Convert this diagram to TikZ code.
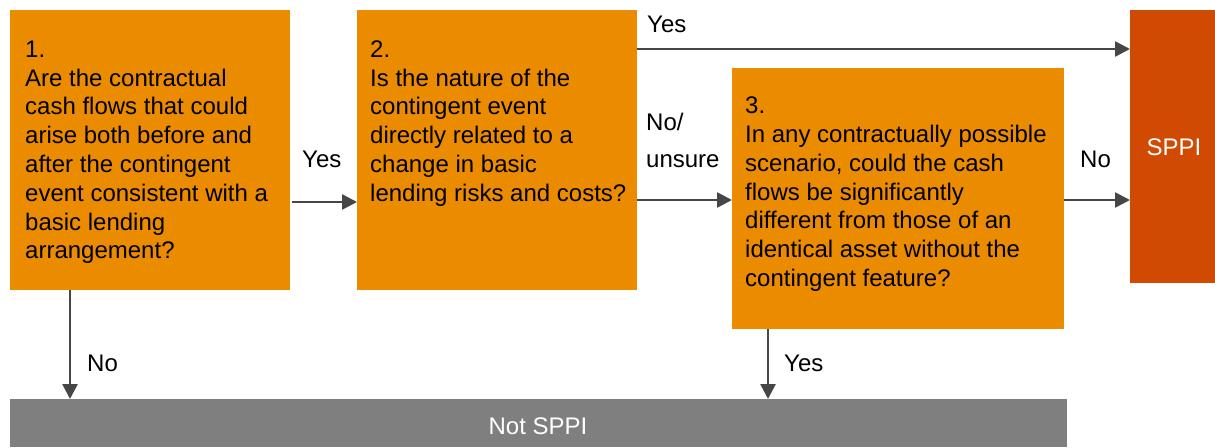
\documentclass[tikz,border=0pt]{standalone}
\usepackage{fontspec}
\setmainfont{Liberation Sans}
\usetikzlibrary{arrows.meta}
\definecolor{pwcorange}{HTML}{EB8C00}
\definecolor{pwcred}{HTML}{D04A02}
\definecolor{bargray}{HTML}{7F7F7F}
\definecolor{arrgray}{HTML}{464646}
\begin{document}
\begin{tikzpicture}[x=1pt,y=-1pt,
  box/.style={fill=pwcorange, anchor=north west, inner sep=0pt, outer sep=0pt},
  qtext/.style={anchor=north west, inner sep=0pt, align=left, font=\fontsize{24}{28.8}\selectfont},
  lab/.style={anchor=base west, inner sep=0pt, font=\fontsize{24}{28.8}\selectfont},
  arr/.style={draw=arrgray, line width=2.6pt, -{Triangle[length=15pt,width=15pt]}}
]
\useasboundingbox (0,0) rectangle (1215,447);
% boxes
\node[box, minimum width=280pt, minimum height=280pt] (b1) at (10,10) {};
\node[box, minimum width=280pt, minimum height=280pt] (b2) at (357,10) {};
\node[box, minimum width=332pt, minimum height=261pt] (b3) at (732,68) {};
\node[box, fill=pwcred, minimum width=85pt, minimum height=273pt] (sppi) at (1130,10) {};
\node[box, fill=bargray, minimum width=1057pt, minimum height=48pt] (nsppi) at (10,399) {};
% texts
\node[qtext] (t1) at (25,37) {\rule{0pt}{20pt}1.\\Are the contractual\\cash flows that could\\arise both before and\\after the contingent\\event consistent with a\\basic lending\\arrangement?};
\node[qtext] (t2) at (370,37) {\rule{0pt}{20pt}2.\\Is the nature of the\\contingent event\\directly related to a\\change in basic\\lending risks and costs?};
\node[qtext] (t3) at (745,93.4) {\rule{0pt}{20pt}3.\\In any contractually possible\\scenario, could the cash\\flows be significantly\\different from those of an\\identical asset without the\\contingent feature?};
\node[lab, white, anchor=base] (tsppi) at (1174,155) {SPPI};
\node[lab, white, anchor=base] (tnsppi) at (538,434) {Not SPPI};
% connector levels
\coordinate (r202) at (0,202);
\coordinate (r200) at (0,200);
\coordinate (r49) at (0,49);
\coordinate (c70) at (70,0);
\coordinate (c768) at (768,0);
% connectors
\draw[arr] ([xshift=2pt]b1.east |- r202) -- (b2.west |- r202);
\draw[arr] (b2.east |- r49) -- (sppi.west |- r49);
\draw[arr] (b2.east |- r200) -- (b3.west |- r200);
\draw[arr] (b3.east |- r200) -- (sppi.west |- r200);
\draw[arr] (c70 |- b1.south) -- (c70 |- nsppi.north);
\draw[arr] (c768 |- b3.south) -- (c768 |- nsppi.north);
% labels
\node[lab] (l1) at (302,167) {Yes};
\node[lab] (l2) at (647,32) {Yes};
\node[qtext, font=\fontsize{24}{37}\selectfont] (l3) at (646,110) {\rule{0pt}{20pt}No/\\unsure};
\node[lab] (l4) at (1080,167) {No};
\node[lab] (l5) at (87,371) {No};
\node[lab] (l6) at (784,371) {Yes};
\end{tikzpicture}
\end{document}
